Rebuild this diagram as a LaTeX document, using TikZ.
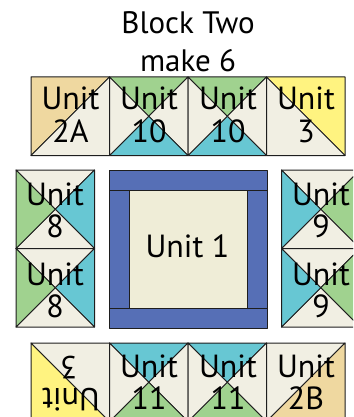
\documentclass[tikz,border=0pt]{standalone}
\usepackage{fontspec}
\setmainfont{PT Sans}
\definecolor{tan}{HTML}{EFD8A0}
\definecolor{cream}{HTML}{F1EFE3}
\definecolor{leaf}{HTML}{A0D28F}
\definecolor{teal}{HTML}{67C7D3}
\definecolor{lemon}{HTML}{FFF380}
\definecolor{navy}{HTML}{566FB6}
\definecolor{core}{HTML}{EFEDD7}
\definecolor{ink}{HTML}{1E1E1E}
\tikzset{
 patch/.style={draw=ink,line width=1pt,line join=round},
 lab/.style={anchor=base,inner sep=0pt,text=black,font=\fontsize{32}{32}\selectfont},
 ttl/.style={anchor=base,inner sep=0pt,text=black,font=\fontsize{31}{31}\selectfont},
}
% quarter-square block: #1,#2 top-left x,y; #3 top, #4 right, #5 bottom, #6 left
\newcommand{\qst}[6]{%
 \coordinate (tl) at (#1,#2);\coordinate (tr) at (#1+78.5,#2);
 \coordinate (bl) at (#1,#2+78.5);\coordinate (br) at (#1+78.5,#2+78.5);
 \coordinate (mm) at (#1+39.25,#2+39.25);
 \filldraw[patch,fill=#3] (tl)--(tr)--(mm)--cycle;
 \filldraw[patch,fill=#4] (tr)--(br)--(mm)--cycle;
 \filldraw[patch,fill=#5] (br)--(bl)--(mm)--cycle;
 \filldraw[patch,fill=#6] (bl)--(tl)--(mm)--cycle;}
\begin{document}
\begin{tikzpicture}[x=1pt,y=-1pt]
\useasboundingbox (0,0) rectangle (353,417);
\begin{scope}
\clip (0,0) rectangle (353,417);
\node[ttl] (title1) at (188,33.5) {Block Two};
\node[ttl] (title2) at (188,71.5) {make 6};
% top row
\filldraw[patch,fill=tan] (31,77)--(109.5,77)--(31,155.5)--cycle;
\filldraw[patch,fill=cream] (109.5,77)--(109.5,155.5)--(31,155.5)--cycle;
\qst{109.5}{77}{leaf}{cream}{teal}{cream}
\qst{188}{77}{leaf}{cream}{teal}{cream}
\filldraw[patch,fill=lemon] (266.5,77)--(345,77)--(345,155.5)--cycle;
\filldraw[patch,fill=cream] (266.5,77)--(266.5,155.5)--(345,155.5)--cycle;
% left and right columns
\qst{16}{170}{cream}{teal}{cream}{leaf}
\qst{16}{248.5}{cream}{teal}{cream}{leaf}
\qst{281.5}{170}{cream}{leaf}{cream}{teal}
\qst{281.5}{248.5}{cream}{leaf}{cream}{teal}
% centre
\filldraw[patch,fill=navy] (109.5,170.5) rectangle (267,190.5);
\filldraw[patch,fill=navy] (109.5,308) rectangle (267,328);
\filldraw[patch,fill=navy] (109.5,190.5) rectangle (129.5,308);
\filldraw[patch,fill=navy] (247,190.5) rectangle (267,308);
\filldraw[patch,fill=core] (129.5,190.5) rectangle (247,308);
% bottom row
\filldraw[patch,fill=lemon] (31,343)--(31,421.5)--(109.5,421.5)--cycle;
\filldraw[patch,fill=cream] (31,343)--(109.5,343)--(109.5,421.5)--cycle;
\qst{109.5}{343}{teal}{cream}{leaf}{cream}
\qst{188}{343}{teal}{cream}{leaf}{cream}
\filldraw[patch,fill=cream] (266.5,343)--(345,343)--(266.5,421.5)--cycle;
\filldraw[patch,fill=tan] (345,343)--(345,421.5)--(266.5,421.5)--cycle;
% labels
\node[lab] (a1) at (70.5,110) {Unit}; \node[lab] (a2) at (70.5,142) {2A};
\node[lab] (b1) at (149,110) {Unit}; \node[lab] (b2) at (149,142) {10};
\node[lab] (c1) at (228,110) {Unit}; \node[lab] (c2) at (228,142) {10};
\node[lab] (d1) at (306,110) {Unit}; \node[lab] (d2) at (306,142) {3};
\node[lab] (e1) at (55,205) {Unit}; \node[lab] (e2) at (55,237) {8};
\node[lab] (f1) at (55,285) {Unit}; \node[lab] (f2) at (55,317) {8};
\node[lab] (g1) at (321,205) {Unit}; \node[lab] (g2) at (321,237) {9};
\node[lab] (h1) at (321,285) {Unit}; \node[lab] (h2) at (321,317) {9};
\node[lab] (core) at (187.5,257) {Unit 1};
\node[lab,rotate=180] (i1) at (71,388) {Unit}; \node[lab,rotate=180] (i2) at (69,356) {3};
\node[lab] (j1) at (149,377) {Unit}; \node[lab] (j2) at (149,409) {11};
\node[lab] (k1) at (228,377) {Unit}; \node[lab] (k2) at (228,409) {11};
\node[lab] (l1) at (306,377) {Unit}; \node[lab] (l2) at (306,409) {2B};
\end{scope}
\end{tikzpicture}
\end{document}
